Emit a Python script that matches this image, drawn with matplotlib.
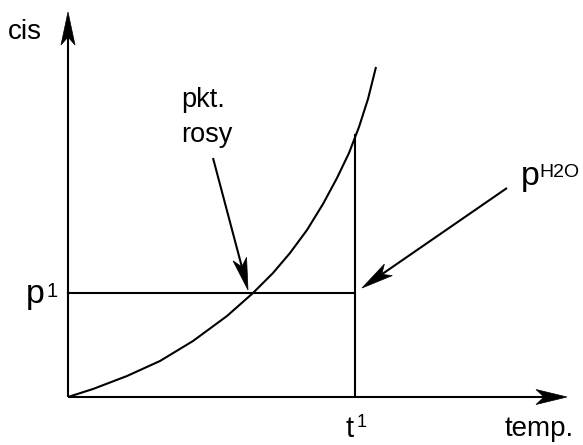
import numpy as np
import matplotlib
matplotlib.use("Agg")
import matplotlib.pyplot as plt
from matplotlib.patches import Polygon

plt.rcParams['font.family'] = ['Liberation Sans', 'DejaVu Sans']

# ---- data (units: pixels relative to origin) ----
curve_temp = [0, 25, 59, 92, 125, 159, 185, 205, 222, 239, 255, 269, 281, 291, 300, 308]
curve_cis = [0, 8, 21, 36, 56, 81, 104, 124, 144, 167, 193, 219, 244, 270, 298, 330]
t1_value = 287
p1_value = 104
t1_line_top = 262
x_axis_end = 499
y_axis_end = 385
dew_arrow = [(145, 239), (180, 107)]
ph2o_arrow = [(439, 209), (294, 109)]

fig = plt.figure(figsize=(5.83, 4.45), dpi=100)
ax = fig.add_axes([0, 0, 1, 1])
ax.set_xlim(-68, 515)
ax.set_ylim(-48, 397)
ax.set_aspect('equal')
ax.axis('off')

LW = 1.5


def arrow(start, tip, L=31, W=7.5, d=8):
    s = np.array(start, float)
    t = np.array(tip, float)
    u = (t - s) / np.hypot(*(t - s))
    n = np.array([-u[1], u[0]])
    base = t - L * u
    notch = t - (L - d) * u
    ax.plot([s[0], notch[0]], [s[1], notch[1]], color='black', lw=LW,
            solid_capstyle='butt')
    poly = Polygon([t, base + W * n, notch, base - W * n], closed=True,
                   facecolor='black', edgecolor='black', lw=0.5, joinstyle='miter')
    ax.add_patch(poly)


# axes
arrow((0, 0), (0, y_axis_end), L=33, W=7)
arrow((0, 0), (x_axis_end, 0), L=31, W=7.5)

# curve
ax.plot(curve_temp, curve_cis, color='black', lw=LW, solid_capstyle='butt')

# guide lines
ax.plot([0, t1_value], [p1_value, p1_value], color='black', lw=LW)
ax.plot([t1_value, t1_value], [0, t1_line_top], color='black', lw=LW)

# annotation arrows
arrow(dew_arrow[0], dew_arrow[1], L=32, W=7)
arrow(ph2o_arrow[0], ph2o_arrow[1], L=32, W=7)

# texts
ax.text(-60, 358, 'cis', fontsize=20, ha='left', va='baseline')
ax.text(437, -39, 'temp.', fontsize=20, ha='left', va='baseline')
ax.text(278, -40, 't', fontsize=21, ha='left', va='baseline')
ax.text(288.5, -30, '1', fontsize=13, ha='left', va='baseline')
ax.text(-42, 94, 'p', fontsize=24.5, ha='left', va='baseline')
ax.text(-22, 100, '1', fontsize=14.5, ha='left', va='baseline')
ax.text(453, 212, 'p', fontsize=24.5, ha='left', va='baseline')
ax.text(471, 220, 'H2O', fontsize=14, ha='left', va='baseline')
ax.text(113, 290, 'pkt.', fontsize=19.5, ha='left', va='baseline')
ax.text(113, 255, 'rosy', fontsize=19.5, ha='left', va='baseline')

fig.savefig('out.png', dpi=100)
